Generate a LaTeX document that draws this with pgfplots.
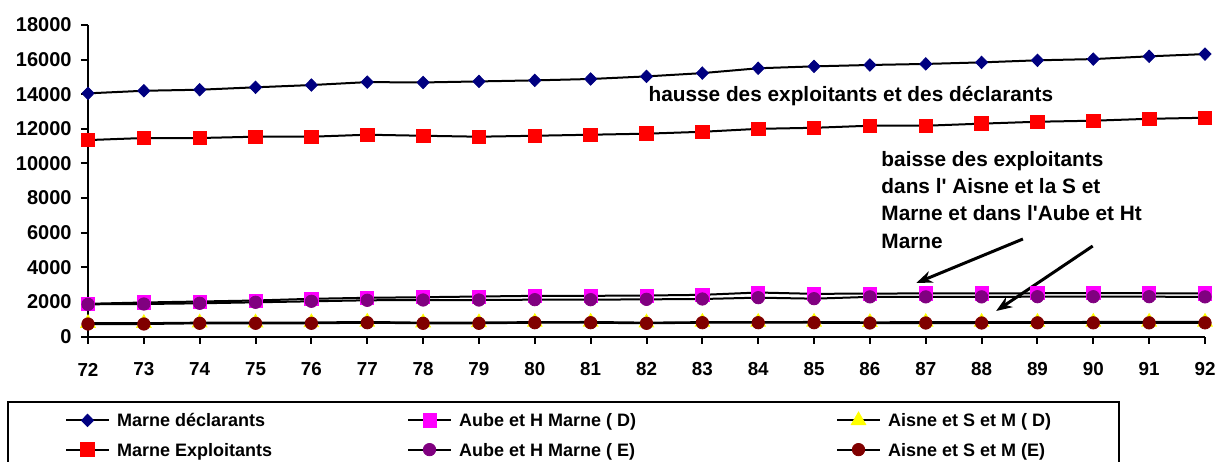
\documentclass[border=0pt]{standalone}
\usepackage{pgfplots}
\pgfplotsset{compat=1.18}
\usetikzlibrary{arrows.meta}
\usepackage{fontspec}
\setmainfont{Liberation Sans}
\definecolor{cnavy}{RGB}{0,0,128}
\definecolor{cred}{RGB}{255,0,0}
\definecolor{cmag}{RGB}{255,0,255}
\definecolor{cyel}{RGB}{255,255,0}
\definecolor{cpur}{RGB}{128,0,128}
\definecolor{cmar}{RGB}{128,0,0}

\pgfplotstableread{
year marneD marneE aubeD aubeE aisneD aisneE
72 14050 11350 1890 1860 770 722
73 14200 11470 1965 1878 770 722
74 14260 11470 2022 1918 800 763
75 14400 11545 2080 1976 800 763
76 14530 11545 2178 2034 810 763
77 14700 11660 2236 2092 840 797
78 14680 11600 2271 2109 800 763
79 14740 11545 2311 2109 810 763
80 14800 11600 2350 2128 830 797
81 14880 11660 2350 2128 840 797
82 15030 11720 2369 2147 800 763
83 15220 11830 2407 2167 830 797
84 15500 12000 2542 2244 830 797
85 15610 12060 2465 2186 840 797
86 15690 12180 2480 2290 820 780
87 15750 12180 2490 2290 830 780
88 15840 12300 2490 2290 830 780
89 15960 12410 2500 2300 830 790
90 16030 12470 2500 2300 840 790
91 16190 12580 2500 2300 840 790
92 16320 12640 2490 2290 840 790
}\datatable

\newcommand{\lgf}{\fontsize{9}{10.8}\selectfont\bfseries}

\begin{document}
\begin{tikzpicture}[x=1pt,y=1pt]
\useasboundingbox (0,0) rectangle (608,230.5);
\begin{axis}[
  at={(44pt,62.25pt)}, anchor=south west,
  scale only axis, width=558.5pt, height=155.75pt,
  xmin=72, xmax=92, ymin=0, ymax=18000,
  scaled y ticks=false,
  axis x line*=bottom, axis y line*=left,
  axis line style={line width=1pt, -},
  xtick={72,...,92}, ytick={0,2000,...,18000},
  tick align=outside, major tick length=3.5pt,
  tick style={line width=1pt, black},
  /pgf/number format/.cd, 1000 sep={}, assume math mode=true,
  /pgfplots/.cd,
  yticklabel style={font=\fontsize{10}{12}\selectfont\bfseries, anchor=east, inner sep=0pt, xshift=-4.5pt},
  xticklabel style={font=\fontsize{9.4}{11}\selectfont\bfseries, anchor=center, inner sep=0pt, yshift=-13pt},
  clip=false,
  legend columns=3,
  legend style={
    at={(-0.0725,-0.2071)}, anchor=north west,
    draw=black, line width=1pt,
    inner xsep=28.5pt, inner ysep=5pt,
    row sep=6.2pt,
    /tikz/every odd column/.append style={column sep=3.5pt},
    nodes={inner sep=0pt, text height=6.6pt, text depth=1.8pt, anchor=base west},
  },
  legend image code/.code={
    \draw[mark repeat=2,mark phase=2,line width=1pt,yshift=3.2pt] plot coordinates {(0pt,0pt) (10.75pt,0pt) (21.5pt,0pt)};
  },
  every axis plot/.append style={black, line width=1pt},
]
\addplot[mark=diamond*, mark size=3.1pt, mark options={xscale=1.3, fill=cnavy, draw=cnavy, line width=0.4pt}] table[x=year,y=marneD] {\datatable};
\addlegendentry{\makebox[145pt][l]{\lgf Marne déclarants}}
\addplot[mark=square*, mark size=3.3pt, mark options={fill=cmag, draw=cmag, line width=0.4pt}] table[x=year,y=aubeD] {\datatable};
\addlegendentry{\makebox[188.5pt][l]{\lgf Aube et H Marne ( D)}}
\addplot[mark=triangle*, mark size=4.2pt, mark options={fill=cyel, draw=cyel, line width=0.4pt}] table[x=year,y=aisneD] {\datatable};
\addlegendentry{\makebox[87pt][l]{\lgf Aisne et S et M ( D)}}
\addplot[mark=square*, mark size=3.4pt, mark options={fill=cred, draw=cred, line width=0.4pt}] table[x=year,y=marneE] {\datatable};
\addlegendentry{\makebox[145pt][l]{\lgf Marne Exploitants}}
\addplot[mark=*, mark size=3.1pt, mark options={fill=cpur, draw=cpur, line width=0.4pt}] table[x=year,y=aubeE] {\datatable};
\addlegendentry{\makebox[188.5pt][l]{\lgf Aube et H Marne ( E)}}
\addplot[mark=*, mark size=3.1pt, mark options={fill=cmar, draw=cmar, line width=0.4pt}] table[x=year,y=aisneE] {\datatable};
\addlegendentry{\makebox[87pt][l]{\lgf Aisne et S et M (E)}}

\begin{scope}[every node/.style={inner sep=0pt, anchor=base west, font=\fontsize{10.4}{12.5}\selectfont\bfseries}]
\node at (axis cs:82.03,13567) {hausse des exploitants et des déclarants};
\node at (axis cs:86.2,9811) {baisse des exploitants};
\node at (axis cs:86.2,8251) {dans l\textquotesingle{} Aisne et la S et};
\node at (axis cs:86.2,6691) {Marne et dans l\textquotesingle{}Aube et Ht};
\node at (axis cs:86.2,5113) {Marne};
\end{scope}
\draw[line width=1.5pt, -{Stealth[length=8pt,width=6pt]}] (axis cs:88.74,5634) -- (axis cs:86.83,3091);
\draw[line width=1.5pt, -{Stealth[length=8pt,width=6pt]}] (axis cs:89.99,5229) -- (axis cs:88.26,1473);
\end{axis}
\end{tikzpicture}
\end{document}
